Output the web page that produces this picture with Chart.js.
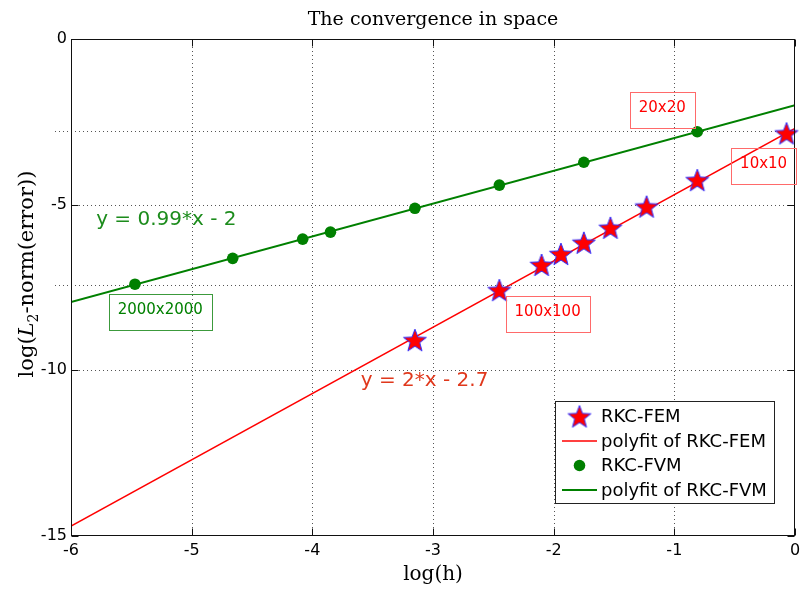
<!DOCTYPE html>
<html>
<head>
<meta charset="utf-8">
<title>The convergence in space</title>
<script src="https://cdn.jsdelivr.net/npm/chart.js@4.4.0/dist/chart.umd.min.js"></script>
<style>
  html, body { margin: 0; padding: 0; background: #fff; overflow: hidden; }
  canvas { display: block; }
</style>
</head>
<body>
<canvas id="conv" width="801" height="589"></canvas>
<script>
// log(h) and log(L2 error) per mesh, RKC with finite elements
const femLogH   = [-0.07, -0.81, -1.23, -1.53, -1.75, -1.94, -2.10, -2.45, -3.15];
const femLogErr = [-2.85, -4.26, -5.06, -5.70, -6.15, -6.49, -6.82, -7.58, -9.09];

// same for finite volumes
const fvmLogH   = [-0.81, -1.75, -2.45, -3.15, -3.85, -4.08, -4.66, -5.47];
const fvmLogErr = [-2.80, -3.72, -4.41, -5.11, -5.83, -6.04, -6.62, -7.40];

// polyfit results [slope, intercept]
const femFit = [2, -2.7];
const fvmFit = [0.99, -2];
const fitRange = [-6, 0];

const xTicks = [-6, -5, -4, -3, -2, -1, 0];
const yTicks = [-15, -10, -5, 0];
const yRefLines = [-2.77, -7.42];

const seriesNames = ['RKC-FEM', 'polyfit of RKC-FEM', 'RKC-FVM', 'polyfit of RKC-FVM'];

const RED = '#ff0000';
const GREEN = '#008000';

// text labels placed in data coordinates
const notes = [
  { text: '20x20',          x: -1.10, y: -2.14,  color: RED,       border: '#ff6a6a', font: '15px "DejaVu Sans"' },
  { text: '10x10',          x: -0.26, y: -3.83,  color: RED,       border: '#ff6a6a', font: '15px "DejaVu Sans"' },
  { text: '100x100',        x: -2.05, y: -8.29,  color: RED,       border: '#ff6a6a', font: '15px "DejaVu Sans"' },
  { text: '2000x2000',      x: -5.26, y: -8.24,  color: GREEN,     border: '#3c9a3c', font: '15px "DejaVu Sans"' },
  { text: 'y = 0.99*x - 2', x: -5.21, y: -5.52,  color: '#1c8c1c', font: '20px "DejaVu Sans"' },
  { text: 'y = 2*x - 2.7',  x: -3.07, y: -10.38, color: '#e0381c', font: '20px "DejaVu Sans"' }
];

function fitLine(coef) {
  return fitRange.map(x => ({ x: x, y: coef[0] * x + coef[1] }));
}

function pairs(xs, ys) {
  return xs.map((x, i) => ({ x: x, y: ys[i] }));
}

// five pointed star marker, red with a blue edge
function makeStar(r) {
  const c = document.createElement('canvas');
  const s = Math.ceil(r * 2 + 4);
  c.width = s; c.height = s;
  const g = c.getContext('2d');
  g.translate(s / 2, s / 2 + 1);
  g.beginPath();
  for (let i = 0; i < 10; i++) {
    const rad = i % 2 === 0 ? r : r * 0.42;
    const a = -Math.PI / 2 + i * Math.PI / 5;
    g.lineTo(rad * Math.cos(a), rad * Math.sin(a));
  }
  g.closePath();
  g.fillStyle = RED;
  g.fill();
  g.strokeStyle = '#2a2aff';
  g.lineWidth = 1;
  g.stroke();
  return c;
}
const starImg = makeStar(12);

const axesPlugin = {
  id: 'matlabAxes',
  beforeDatasetsDraw(chart) {
    const { ctx, chartArea: a, scales: { x, y } } = chart;
    ctx.save();
    ctx.strokeStyle = '#555';
    ctx.lineWidth = 1;
    ctx.setLineDash([1, 3]);
    ctx.beginPath();
    xTicks.forEach(v => {
      if (v === fitRange[0] || v === fitRange[1]) return;
      const px = Math.round(x.getPixelForValue(v)) + 0.5;
      ctx.moveTo(px, a.top); ctx.lineTo(px, a.bottom);
    });
    yTicks.forEach(v => {
      if (v === y.min || v === y.max) return;
      const py = Math.round(y.getPixelForValue(v)) + 0.5;
      ctx.moveTo(a.left, py); ctx.lineTo(a.right, py);
    });
    yRefLines.forEach(v => {
      const py = Math.round(y.getPixelForValue(v)) + 0.5;
      ctx.moveTo(a.left - 16, py); ctx.lineTo(a.right, py);
    });
    ctx.stroke();
    ctx.restore();
  },
  afterDatasetsDraw(chart) {
    const { ctx, chartArea: a, scales: { x, y } } = chart;
    const L = Math.round(a.left) + 0.5, R = Math.round(a.right) - 0.5;
    const T = Math.round(a.top) + 0.5, B = Math.round(a.bottom) - 0.5;
    ctx.save();
    ctx.strokeStyle = '#111';
    ctx.lineWidth = 1;
    ctx.strokeRect(L, T, R - L, B - T);
    // inward tick marks on all four sides
    ctx.beginPath();
    xTicks.forEach(v => {
      const px = Math.round(x.getPixelForValue(v)) + 0.5;
      ctx.moveTo(px, B); ctx.lineTo(px, B - 7);
      ctx.moveTo(px, T); ctx.lineTo(px, T + 7);
    });
    yTicks.forEach(v => {
      const py = Math.round(y.getPixelForValue(v)) + 0.5;
      ctx.moveTo(L, py); ctx.lineTo(L + 7, py);
      ctx.moveTo(R, py); ctx.lineTo(R - 7, py);
    });
    ctx.stroke();

    // mesh labels and fit equations
    ctx.textAlign = 'center';
    ctx.textBaseline = 'middle';
    notes.forEach(n => {
      const cx = x.getPixelForValue(n.x);
      const cy = y.getPixelForValue(n.y);
      ctx.font = n.font;
      ctx.fillStyle = n.color;
      ctx.fillText(n.text, cx, cy - 2);
      if (n.border) {
        const w = ctx.measureText(n.text).width + 18;
        const h = 36;
        ctx.strokeStyle = n.border;
        ctx.strokeRect(Math.round(cx - w / 2) + 0.5, Math.round(cy - h / 2) + 0.5, Math.round(w), h);
      }
    });

    // legend box, lower right
    const box = { left: 555.5, top: 401.5, width: 219, height: 102 };
    ctx.fillStyle = '#fff';
    ctx.fillRect(box.left, box.top, box.width, box.height);
    ctx.strokeStyle = '#222';
    ctx.strokeRect(box.left, box.top, box.width, box.height);
    ctx.font = '18px "DejaVu Sans"';
    ctx.textAlign = 'left';
    ctx.fillStyle = '#000';
    chart.data.datasets.forEach((ds, i) => {
      const ry = box.top + 15 + i * 24.5;
      if (ds.showLine) {
        ctx.strokeStyle = ds.borderColor;
        ctx.lineWidth = ds.borderWidth;
        ctx.beginPath();
        ctx.moveTo(562, ry); ctx.lineTo(597, ry);
        ctx.stroke();
      } else if (ds.pointStyle === 'circle') {
        ctx.fillStyle = ds.pointBackgroundColor;
        ctx.beginPath();
        ctx.arc(579.5, ry, ds.pointRadius, 0, Math.PI * 2);
        ctx.fill();
      } else {
        ctx.drawImage(ds.pointStyle, 579.5 - ds.pointStyle.width / 2, ry - ds.pointStyle.height / 2);
      }
      ctx.fillStyle = '#000';
      ctx.fillText(ds.label, 601, ry + 1);
    });
    ctx.restore();
  },
  afterDraw(chart) {
    const { ctx, chartArea: a } = chart;
    const cx = (a.left + a.right) / 2;
    ctx.save();
    ctx.fillStyle = '#000';
    ctx.textAlign = 'center';
    ctx.textBaseline = 'alphabetic';
    ctx.font = '19px "DejaVu Serif"';
    ctx.fillText('The convergence in space', cx, 25);
    ctx.font = '20px "DejaVu Serif"';
    ctx.fillText('log(h)', cx, 580);

    // y title with italic L and subscript 2
    const parts = [
      { t: 'log(', f: '21px "DejaVu Serif"', dy: 0 },
      { t: 'L', f: 'italic 21px "DejaVu Serif"', dy: 0 },
      { t: '2', f: '14px "DejaVu Serif"', dy: 5 },
      { t: '-norm(error))', f: '21px "DejaVu Serif"', dy: 0 }
    ];
    let total = 0;
    parts.forEach(p => { ctx.font = p.f; p.w = ctx.measureText(p.t).width; total += p.w; });
    ctx.translate(33, 274);
    ctx.rotate(-Math.PI / 2);
    ctx.textAlign = 'left';
    let px = -total / 2;
    parts.forEach(p => {
      ctx.font = p.f;
      ctx.fillText(p.t, px, p.dy);
      px += p.w;
    });
    ctx.restore();
  }
};

new Chart(document.getElementById('conv'), {
  type: 'scatter',
  data: {
    datasets: [
      {
        label: seriesNames[0],
        data: pairs(femLogH, femLogErr),
        showLine: false,
        pointStyle: starImg,
        pointRadius: 12,
        clip: false
      },
      {
        label: seriesNames[1],
        data: fitLine(femFit),
        showLine: true,
        borderColor: RED,
        borderWidth: 1.6,
        pointRadius: 0
      },
      {
        label: seriesNames[2],
        data: pairs(fvmLogH, fvmLogErr),
        showLine: false,
        pointStyle: 'circle',
        pointRadius: 5.8,
        pointBackgroundColor: GREEN,
        pointBorderColor: GREEN,
        pointBorderWidth: 0,
        clip: false
      },
      {
        label: seriesNames[3],
        data: fitLine(fvmFit),
        showLine: true,
        borderColor: GREEN,
        borderWidth: 2,
        pointRadius: 0
      }
    ]
  },
  options: {
    responsive: false,
    animation: false,
    events: [],
    layout: { autoPadding: false, padding: { top: 39, right: 6, left: 0, bottom: 0 } },
    plugins: {
      legend: { display: false },
      tooltip: { enabled: false },
      title: { display: false }
    },
    scales: {
      x: {
        type: 'linear',
        min: -6,
        max: 0,
        afterBuildTicks: scale => { scale.ticks = xTicks.map(v => ({ value: v })); },
        afterFit: scale => { scale.height = 53; scale.paddingLeft = 0; scale.paddingRight = 0; },
        grid: { display: false, drawTicks: false },
        border: { display: false },
        ticks: {
          color: '#000',
          padding: 5,
          maxRotation: 0,
          font: { family: 'DejaVu Sans', size: 16 },
          callback: v => String(v)
        }
      },
      y: {
        type: 'linear',
        min: -15,
        max: 0,
        afterBuildTicks: scale => { scale.ticks = yTicks.map(v => ({ value: v })); },
        afterFit: scale => { scale.width = 71; scale.paddingTop = 0; scale.paddingBottom = 0; },
        grid: { display: false, drawTicks: false },
        border: { display: false },
        ticks: {
          color: '#000',
          padding: 4,
          font: { family: 'DejaVu Sans', size: 16 },
          callback: v => String(v)
        }
      }
    }
  },
  plugins: [axesPlugin]
});
</script>
</body>
</html>
